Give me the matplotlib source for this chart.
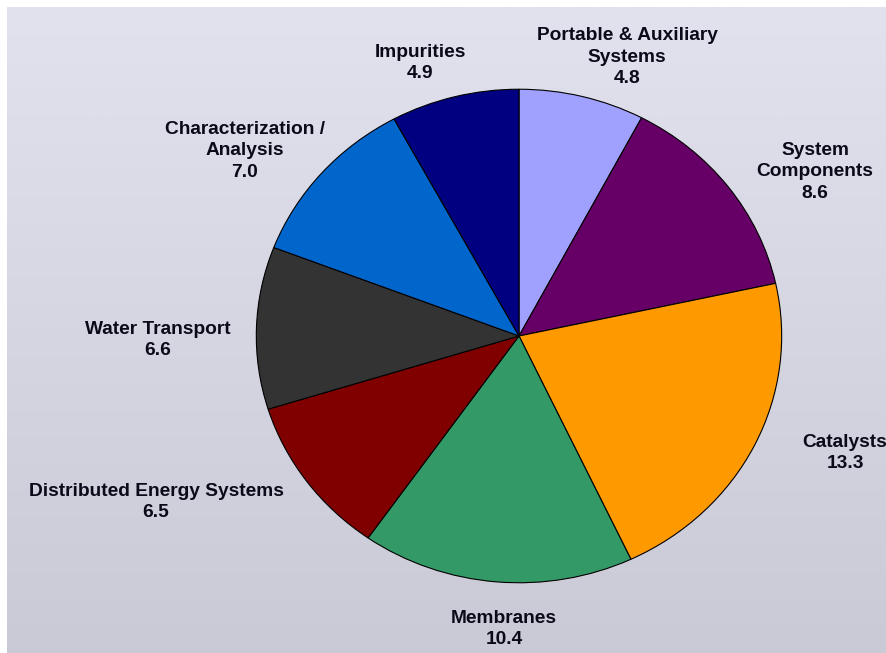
import matplotlib
matplotlib.use("Agg")
import matplotlib.pyplot as plt
import numpy as np
from matplotlib.colors import LinearSegmentedColormap

categories = ["Portable & Auxiliary\nSystems", "System\nComponents", "Catalysts",
              "Membranes", "Distributed Energy Systems", "Water Transport",
              "Characterization /\nAnalysis", "Impurities"]
values = [4.8, 8.6, 13.3, 10.4, 6.5, 6.6, 7.0, 4.9]
colors = ["#A0A0FF", "#660066", "#FF9900", "#339966", "#800000", "#333333",
          "#0066CC", "#000080"]

# label centres in figure pixels (layout)
label_pos = [(627, 57), (815, 172), (845, 453), (504, 629), (156, 502),
             (158, 340), (245, 151), (420, 63)]

W, H = 886, 653
fig = plt.figure(figsize=(W / 100, H / 100), dpi=100)
fig.patch.set_facecolor("white")

# background panel with gradient
bg = fig.add_axes([7 / W, 0, (W - 7) / W, (H - 7) / H])
cmap = LinearSegmentedColormap.from_list("bg", ["#E2E2EE", "#CACAD6"])
grad = np.linspace(0, 1, 256).reshape(-1, 1)
bg.imshow(grad, aspect="auto", cmap=cmap, extent=[0, 1, 0, 1], origin="upper")
bg.set_axis_off()

# pie axes (elliptical)
cx, cy, rx, ry = 519, 336, 264, 248
ax = fig.add_axes([(cx - rx) / W, (H - cy - ry) / H, 2 * rx / W, 2 * ry / H])
ax.pie(values, colors=colors, startangle=90, counterclock=False,
       wedgeprops=dict(edgecolor="black", linewidth=0.8), radius=1)
ax.set_aspect("auto")
ax.set_xlim(-1.005, 1.005)
ax.set_ylim(-1.005, 1.005)
ax.set_axis_off()

for name, val, (x, y) in zip(categories, values, label_pos):
    fig.text(x / W, 1 - y / H, f"{name}\n{val:.1f}", ha="center", va="center",
             fontsize=13.8, fontweight="bold", family="Liberation Sans",
             color="#0A0A1A", linespacing=1.37)

fig.savefig("out.png", dpi=100)
